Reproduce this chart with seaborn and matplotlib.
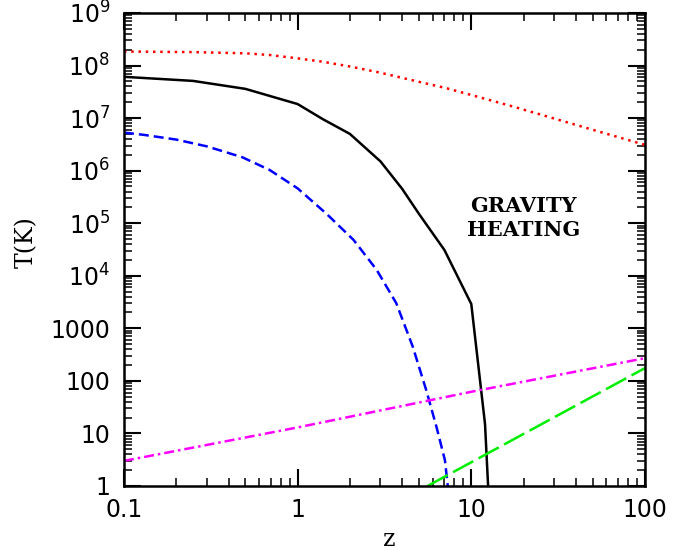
import numpy as np
import matplotlib
matplotlib.use("Agg")
import matplotlib.pyplot as plt
import matplotlib.ticker as mticker
import seaborn as sns

# --- data ---
z_grav = [0.1, 0.25, 0.5, 1, 1.4, 2, 3, 4, 5, 7, 10, 12, 12.5]
t_grav = [6.1e7, 5.1e7, 3.6e7, 1.85e7, 9.5e6, 5.0e6, 1.5e6, 4.5e5, 1.5e5, 3.1e4, 2.9e3, 15, 1.0]

z_dot = [0.1, 0.25, 0.5, 0.7, 1, 1.4, 2, 3, 5, 7.2, 10, 17.5, 20, 42, 50, 100]
t_dot = [1.85e8, 1.8e8, 1.71e8, 1.58e8, 1.37e8, 1.18e8, 9.6e7, 7.3e7, 4.9e7, 3.7e7,
         2.75e7, 1.65e7, 1.45e7, 7.1e6, 6.0e6, 3.1e6]

z_dash = [0.1, 0.13, 0.2, 0.3, 0.48, 0.69, 1.0, 1.47, 2.1, 2.85, 3.7, 4.6, 5.5, 6.3, 7.05, 7.35]
t_dash = [5.3e6, 4.8e6, 3.9e6, 2.9e6, 1.8e6, 1.03e6, 4.6e5, 1.5e5, 4.8e4, 1.3e4, 3.0e3,
          450, 67, 13.4, 3.1, 0.9]

z_dashdot = [0.1, 1, 10, 100]
t_dashdot = [3.0, 13, 62, 270]

z_long = [5.6, 100]
t_long = [1.0, 175]

x_ticks = [0.1, 1, 10, 100]
x_labels = ["0.1", "1", "10", "100"]
y_ticks = [1, 10, 100, 1000, 1e4, 1e5, 1e6, 1e7, 1e8, 1e9]
y_labels = ["1", "10", "100", "1000"] + [f"$10^{{{k}}}$" for k in range(4, 10)]

sns.set_theme(style="ticks")
plt.rcParams["font.family"] = ["DejaVu Sans"]
plt.rcParams["mathtext.fontset"] = "dejavusans"
plt.rcParams["text.color"] = "black"
plt.rcParams["axes.labelcolor"] = "black"
plt.rcParams["xtick.color"] = "black"
plt.rcParams["ytick.color"] = "black"

fig = plt.figure(figsize=(6.73, 5.5), dpi=100)
ax = fig.add_axes([0.1842, 0.1164, 0.7741, 0.86])

lw = 1.8
sns.lineplot(x=z_dot, y=t_dot, ax=ax, color="#ff0000", lw=lw, sort=False,
             linestyle=(0, (1.0, 1.9)))
sns.lineplot(x=z_grav, y=t_grav, ax=ax, color="black", lw=lw, sort=False)
sns.lineplot(x=z_dash, y=t_dash, ax=ax, color="#0000ff", lw=lw, sort=False,
             linestyle=(0, (4.0, 2.0)))
sns.lineplot(x=z_dashdot, y=t_dashdot, ax=ax, color="#ff00ff", lw=lw, sort=False,
             linestyle=(0, (4.0, 1.6, 1.0, 1.6)))
sns.lineplot(x=z_long, y=t_long, ax=ax, color="#00ee00", lw=lw, sort=False,
             linestyle=(0, (9.2, 2.4)))

ax.set_xscale("log")
ax.set_yscale("log")
ax.set_xlim(0.1, 100)
ax.set_ylim(1, 1e9)

ax.set_xticks(x_ticks, x_labels)
ax.set_yticks(y_ticks, y_labels)
for axis in (ax.xaxis, ax.yaxis):
    axis.set_minor_locator(mticker.LogLocator(base=10, subs=np.arange(2, 10), numticks=100))
    axis.set_minor_formatter(mticker.NullFormatter())

ax.tick_params(which="both", direction="in", top=True, right=True, color="black")
ax.tick_params(which="major", length=12, width=1.5, labelsize=17, pad=10)
ax.tick_params(which="minor", length=6, width=1.1)
ax.tick_params(axis="x", which="major", pad=9)

for sp in ax.spines.values():
    sp.set_linewidth(1.8)
    sp.set_color("black")

ax.set_xlabel("z", family="DejaVu Serif", fontsize=17, va="center")
ax.set_ylabel("T(K)", family="DejaVu Serif", fontsize=17, va="center")
ax.xaxis.set_label_coords(0.51, -0.114)
ax.yaxis.set_label_coords(-0.188, 0.516)

ax.text(20, 1.26e5, "GRAVITY\nHEATING", ha="center", va="center",
        family="DejaVu Serif", fontweight="bold", fontsize=15, linespacing=1.2)

fig.savefig("out.png", dpi=100)
plt.close(fig)
